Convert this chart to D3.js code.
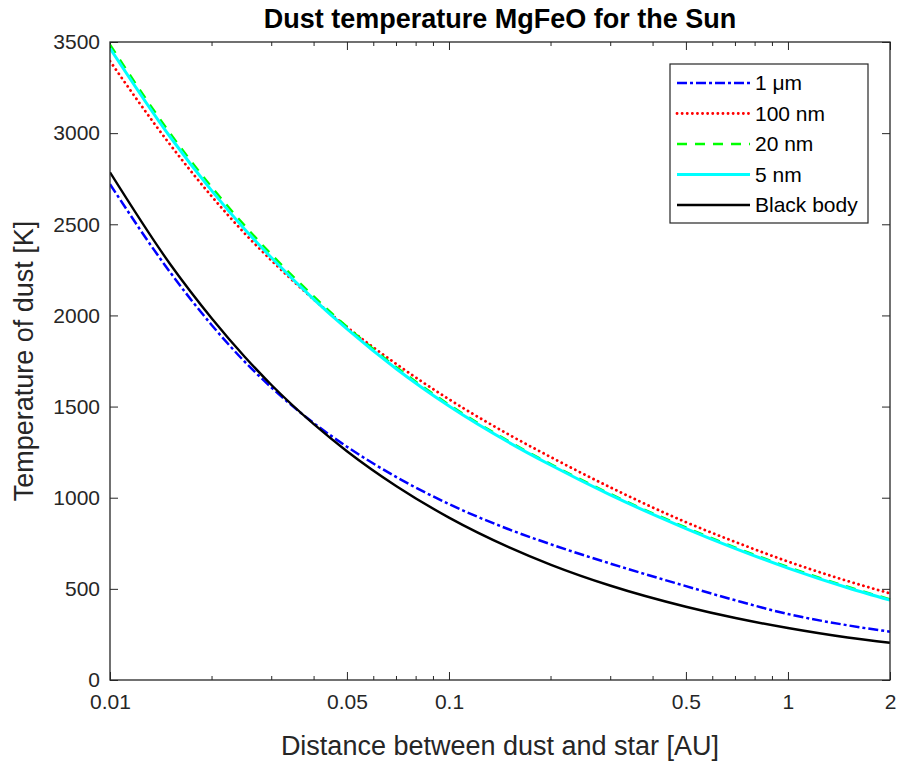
<!DOCTYPE html>
<html>
<head>
<meta charset="utf-8">
<script src="https://cdn.jsdelivr.net/npm/d3@7"></script>
<style>
  html, body { margin: 0; padding: 0; background: #fff; }
  svg { display: block; }
  text { font-family: "Liberation Sans", Arial, Helvetica, sans-serif; }
</style>
</head>
<body>
<svg id="chart" width="903" height="764"></svg>
<script>
// Distance from the star [AU]
const distance = [0.01, 0.015, 0.02, 0.025, 0.03, 0.04, 0.05, 0.07, 0.1, 0.15, 0.2, 0.3, 0.5, 0.7, 1, 1.5, 2];

// Dust temperature [K] per grain size
const temp1um   = [2720, 2240, 1945, 1745, 1603, 1408, 1280, 1113, 965, 827, 744, 638, 515, 437, 362, 300, 265];
const temp100nm = [3395, 2940, 2651, 2449, 2300, 2086, 1936, 1733, 1540, 1347, 1222, 1056, 866, 757, 650, 543, 475];
const temp20nm  = [3486, 3003, 2702, 2492, 2333, 2103, 1938, 1716, 1511, 1310, 1184, 1020, 837, 727, 620, 512, 443];
const temp5nm   = [3466, 2983, 2682, 2472, 2315, 2087, 1926, 1706, 1503, 1304, 1178, 1014, 831, 721, 614, 506, 438];
const tempBlack = [2785, 2285, 1982, 1772, 1617, 1402, 1255, 1063, 891, 729, 632, 517, 402, 340, 285, 233, 204];

const seriesNames = ["1 \u03bcm", "100 nm", "20 nm", "5 nm", "Black body"];
const seriesData  = [temp1um, temp100nm, temp20nm, temp5nm, tempBlack];

const xTickValues = [0.01, 0.05, 0.1, 0.5, 1, 2];
const xTickLabels = ["0.01", "0.05", "0.1", "0.5", "1", "2"];
const yTickValues = [0, 500, 1000, 1500, 2000, 2500, 3000, 3500];

// Line styles for each series (drawn in this order)
const styles = [
  { color: "#0000ff", width: 2.5, dash: "10,3,3,3", cap: "butt" },
  { color: "#ff0000", width: 2.8, dash: "0.1,5",    cap: "round" },
  { color: "#00ff00", width: 2.3, dash: "10,8",     cap: "butt" },
  { color: "#00ffff", width: 3,   dash: null,       cap: "butt" },
  { color: "#000000", width: 2.4, dash: null,       cap: "butt" }
];

const svg = d3.select("#chart");
const m = { left: 110, right: 890, top: 42, bottom: 680 };

const x = d3.scaleLog().domain([0.01, 2]).range([m.left, m.right]);
const y = d3.scaleLinear().domain([0, 3500]).range([m.bottom, m.top]);

const axisColor = "#262626";

svg.append("defs").append("clipPath").attr("id", "plotClip")
  .append("rect").attr("x", m.left).attr("y", m.top - 3)
  .attr("width", m.right - m.left + 1).attr("height", m.bottom - m.top + 3);

// Minor log ticks between the labelled ones
const minorTicks = [];
[0.01, 0.1, 1].forEach(dec => {
  for (let k = 1; k <= 9; k++) {
    const v = +(dec * k).toFixed(4);
    if (v >= 0.01 && v <= 2 && !xTickValues.includes(v)) minorTicks.push(v);
  }
});

// Bottom axis
const gxb = svg.append("g").attr("transform", `translate(0,${m.bottom})`)
  .call(d3.axisBottom(x).tickValues(xTickValues)
    .tickFormat((d, i) => xTickLabels[i]).tickSizeInner(-8).tickSizeOuter(0).tickPadding(14));
gxb.select(".domain").remove();
gxb.selectAll("line").attr("stroke", axisColor);
gxb.selectAll("text").attr("fill", axisColor).attr("font-size", 21).attr("dy", "0.71em");

// Top axis ticks
const gxt = svg.append("g").attr("transform", `translate(0,${m.top})`)
  .call(d3.axisTop(x).tickValues(xTickValues).tickFormat("").tickSizeInner(-8).tickSizeOuter(0));
gxt.select(".domain").remove();
gxt.selectAll("line").attr("stroke", axisColor);

svg.append("g").selectAll("line").data(minorTicks).join("line")
  .attr("x1", d => x(d)).attr("x2", d => x(d))
  .attr("y1", m.bottom).attr("y2", m.bottom - 4).attr("stroke", axisColor);
svg.append("g").selectAll("line").data(minorTicks).join("line")
  .attr("x1", d => x(d)).attr("x2", d => x(d))
  .attr("y1", m.top).attr("y2", m.top + 4).attr("stroke", axisColor);

// Left axis
const gyl = svg.append("g").attr("transform", `translate(${m.left},0)`)
  .call(d3.axisLeft(y).tickValues(yTickValues).tickFormat(d3.format("d"))
    .tickSizeInner(-8).tickSizeOuter(0).tickPadding(10));
gyl.select(".domain").remove();
gyl.selectAll("line").attr("stroke", axisColor);
gyl.selectAll("text").attr("fill", axisColor).attr("font-size", 21);

// Right axis ticks
const gyr = svg.append("g").attr("transform", `translate(${m.right},0)`)
  .call(d3.axisRight(y).tickValues(yTickValues).tickFormat("").tickSizeInner(-8).tickSizeOuter(0));
gyr.select(".domain").remove();
gyr.selectAll("line").attr("stroke", axisColor);

// Curves
const line = d3.line()
  .x(d => x(d[0])).y(d => y(d[1]))
  .curve(d3.curveMonotoneX);

const plot = svg.append("g").attr("clip-path", "url(#plotClip)");
seriesData.forEach((vals, i) => {
  const s = styles[i];
  plot.append("path")
    .datum(distance.map((d, j) => [d, vals[j]]))
    .attr("fill", "none")
    .attr("stroke", s.color)
    .attr("stroke-width", s.width)
    .attr("stroke-dasharray", s.dash)
    .attr("stroke-linecap", s.cap)
    .attr("d", line);
});

// Plot frame
svg.append("rect")
  .attr("x", m.left).attr("y", m.top)
  .attr("width", m.right - m.left).attr("height", m.bottom - m.top)
  .attr("fill", "none").attr("stroke", axisColor).attr("stroke-width", 1.3);

// Title and axis labels
svg.append("text")
  .attr("x", (m.left + m.right) / 2).attr("y", 28)
  .attr("text-anchor", "middle").attr("font-size", 27).attr("font-weight", "bold")
  .attr("fill", "#000").text("Dust temperature MgFeO for the Sun");

svg.append("text")
  .attr("x", (m.left + m.right) / 2).attr("y", 755)
  .attr("text-anchor", "middle").attr("font-size", 27)
  .attr("fill", axisColor).text("Distance between dust and star [AU]");

svg.append("text")
  .attr("transform", `translate(33,${(m.top + m.bottom) / 2}) rotate(-90)`)
  .attr("text-anchor", "middle").attr("font-size", 27)
  .attr("fill", axisColor).text("Temperature of dust [K]");

// Legend
const lg = svg.append("g").attr("transform", "translate(670,64)");
lg.append("rect").attr("width", 198).attr("height", 159)
  .attr("fill", "#fff").attr("stroke", axisColor).attr("stroke-width", 1.2);
seriesNames.forEach((name, i) => {
  const s = styles[i];
  const yy = 19 + i * 30.5;
  lg.append("line")
    .attr("x1", 7).attr("x2", 80).attr("y1", yy).attr("y2", yy)
    .attr("stroke", s.color).attr("stroke-width", s.width)
    .attr("stroke-dasharray", s.dash)
    .attr("stroke-linecap", s.cap);
  lg.append("text")
    .attr("x", 85).attr("y", yy).attr("dy", "0.35em")
    .attr("font-size", 21).attr("fill", "#000").text(name);
});
</script>
</body>
</html>
